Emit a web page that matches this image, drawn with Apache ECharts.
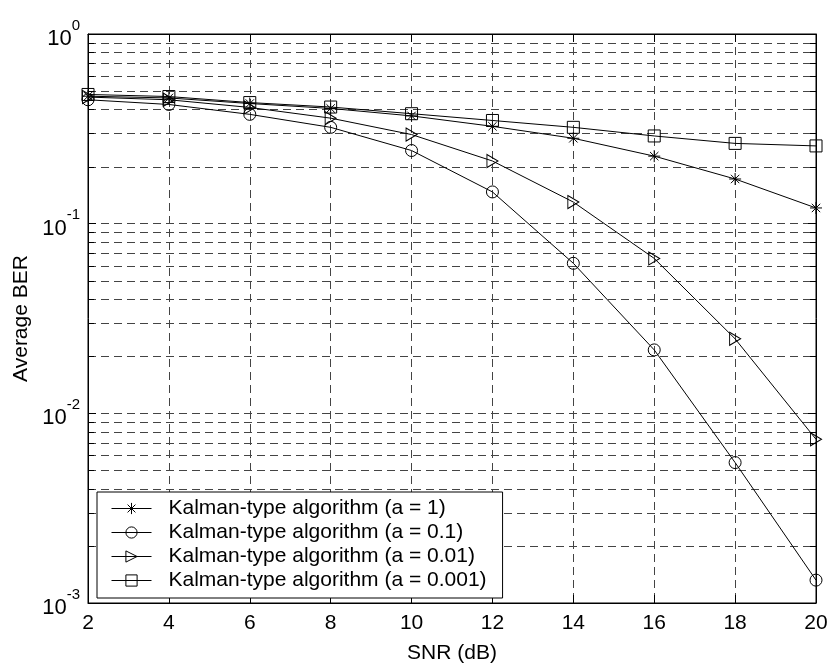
<!DOCTYPE html>
<html>
<head>
<meta charset="utf-8">
<script src="https://cdn.jsdelivr.net/npm/echarts@6/dist/echarts.min.js"></script>
<style>html,body{margin:0;padding:0;background:#fff}#c{width:831px;height:669px}</style>
</head>
<body>
<div id="c"></div>
<script>
const snr = [2, 4, 6, 8, 10, 12, 14, 16, 18, 20];
const berA1 = [0.47, 0.46, 0.43, 0.405, 0.37, 0.326, 0.282, 0.227, 0.172, 0.121];
const berA01 = [0.45, 0.425, 0.377, 0.322, 0.243, 0.147, 0.0618, 0.0216, 0.0055, 0.00132];
const berA001 = [0.465, 0.45, 0.41, 0.36, 0.295, 0.214, 0.130, 0.0656, 0.0247, 0.0073];
const berA0001 = [0.48, 0.468, 0.435, 0.412, 0.38, 0.35, 0.322, 0.29, 0.265, 0.257];
const seriesNames = ['Kalman-type algorithm (a = 1)', 'Kalman-type algorithm (a = 0.1)', 'Kalman-type algorithm (a = 0.01)', 'Kalman-type algorithm (a = 0.001)'];
const xTicks = [2, 4, 6, 8, 10, 12, 14, 16, 18, 20];
const yMajor = [0.001, 0.01, 0.1, 1];
const yMinor = [0.002,0.003,0.004,0.005,0.006,0.007,0.008,0.009,0.02,0.03,0.04,0.05,0.06,0.07,0.08,0.09,0.2,0.3,0.4,0.5,0.6,0.7,0.8,0.9];

const FONT = "'Liberation Sans', Arial, Helvetica, sans-serif";
const GRID = '#444';
const DASH = [8, 5];

const starPath = 'path://M0 5 L10 5 M5 0 L5 10 M1.5 1.5 L8.5 8.5 M8.5 1.5 L1.5 8.5';
const triPath = 'path://M0 0 L10 5 L0 10 Z';

function mk(name, data, symbol, size) {
  return {
    name: name, type: 'line', data: snr.map((x, i) => [x, data[i]]),
    symbol: symbol, symbolSize: size, showSymbol: true,
    lineStyle: { color: '#000', width: 1 },
    itemStyle: { color: 'transparent', borderColor: '#000', borderWidth: 1 },
    emphasis: { disabled: true }, z: 5, animation: false
  };
}

const gridSeries = {
  type: 'custom', silent: true, z: 1, animation: false,
  data: yMinor.map(v => [xTicks[0], v]),
  renderItem: function (params, api) {
    const v = api.value(1);
    const p0 = api.coord([xTicks[0], v]);
    const p1 = api.coord([xTicks[xTicks.length - 1], v]);
    const y = Math.round(p0[1]) + 0.5;
    return {
      type: 'group', children: [
        { type: 'line', shape: { x1: p0[0], y1: y, x2: p1[0], y2: y }, style: { stroke: GRID, lineWidth: 1, lineDash: DASH } },
        { type: 'line', shape: { x1: p0[0], y1: y, x2: p0[0] + 6, y2: y }, style: { stroke: '#000', lineWidth: 1 } },
        { type: 'line', shape: { x1: p1[0] - 6, y1: y, x2: p1[0], y2: y }, style: { stroke: '#000', lineWidth: 1 } }
      ]
    };
  }
};

const chart = echarts.init(document.getElementById('c'), null, { renderer: 'canvas' });
chart.setOption({
  animation: false,
  backgroundColor: '#fff',
  textStyle: { fontFamily: FONT },
  grid: { left: 88, right: 15, top: 34, bottom: 62, show: true, borderColor: '#000', borderWidth: 1, backgroundColor: 'transparent' },
  xAxis: [{
    type: 'value', min: 2, max: 20, interval: 2,
    name: 'SNR (dB)', nameLocation: 'middle', nameGap: 40,
    nameTextStyle: { color: '#000', fontSize: 21, fontFamily: FONT },
    axisLine: { show: true, lineStyle: { color: '#000', width: 1 } },
    axisTick: { show: true, inside: true, length: 8, lineStyle: { color: '#000' } },
    axisLabel: { color: '#000', fontSize: 21, fontFamily: FONT, margin: 10 },
    splitLine: { show: true, lineStyle: { color: GRID, width: 1, type: DASH } }
  }, {
    type: 'value', min: 2, max: 20, interval: 2, position: 'top',
    axisLine: { show: true, lineStyle: { color: '#000' } },
    axisTick: { show: true, inside: true, length: 8, lineStyle: { color: '#000' } },
    axisLabel: { show: false }, splitLine: { show: false }
  }],
  yAxis: [{
    type: 'log', logBase: 10, min: 0.001, max: 1,
    name: 'Average BER', nameLocation: 'middle', nameGap: 56,
    nameTextStyle: { color: '#000', fontSize: 21, fontFamily: FONT },
    axisLine: { show: true, lineStyle: { color: '#000', width: 1 } },
    axisTick: { show: true, inside: true, length: 8, lineStyle: { color: '#000' } },
    axisLabel: {
      color: '#000', margin: 8, fontFamily: FONT,
      formatter: function (v) {
        const e = Math.round(Math.log10(v));
        return '{b|10}{e|' + e + '}';
      },
      rich: {
        b: { fontSize: 22, fontFamily: FONT, color: '#000', lineHeight: 32, verticalAlign: 'bottom' },
        e: { fontSize: 15, fontFamily: FONT, color: '#000', lineHeight: 15, verticalAlign: 'top' }
      }
    },
    splitLine: { show: true, lineStyle: { color: GRID, width: 1, type: DASH } }
  }, {
    type: 'log', logBase: 10, min: 0.001, max: 1, position: 'right',
    axisLine: { show: true, lineStyle: { color: '#000' } },
    axisTick: { show: true, inside: true, length: 8, lineStyle: { color: '#000' } },
    axisLabel: { show: false }, splitLine: { show: false }
  }],
  legend: {
    data: seriesNames, orient: 'vertical', left: 97, top: 492,
    backgroundColor: '#fff', borderColor: '#000', borderWidth: 1, borderRadius: 0,
    padding: [6, 16, 7, 14], itemGap: 3, itemWidth: 40, itemHeight: 14,
    lineStyle: { width: 1, color: '#000' },
    itemStyle: { borderWidth: 1, borderColor: '#000', color: 'transparent' },
    textStyle: { color: '#000', fontSize: 21, fontFamily: FONT, padding: [0, 0, 0, 12] },
    selectedMode: false
  },
  series: [
    gridSeries,
    mk(seriesNames[0], berA1, starPath, 12),
    mk(seriesNames[1], berA01, 'circle', 12),
    mk(seriesNames[2], berA001, triPath, [11, 13]),
    mk(seriesNames[3], berA0001, 'rect', 12)
  ]
});
</script>
</body>
</html>
